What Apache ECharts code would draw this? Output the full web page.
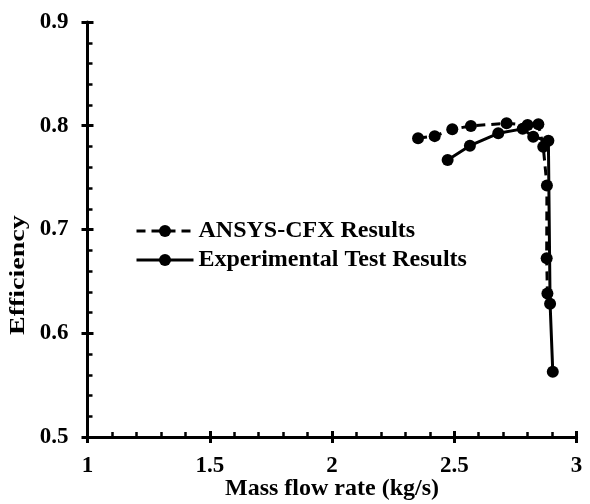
<!DOCTYPE html>
<html><head><meta charset="utf-8">
<script src="https://cdn.jsdelivr.net/npm/echarts@6/dist/echarts.min.js"></script>
<style>html,body{margin:0;padding:0;background:#fff}#c{width:590px;height:504px}</style>
</head><body><div id="c"></div>
<script>
const ansysX = [2.352, 2.42, 2.492, 2.568, 2.714, 2.80, 2.844, 2.864, 2.879, 2.878, 2.881];
const ansysY = [0.788, 0.790, 0.7966, 0.7998, 0.8024, 0.8007, 0.8014, 0.7798, 0.7423, 0.6724, 0.6382];
const expX = [2.473, 2.564, 2.68, 2.78, 2.823, 2.885, 2.892, 2.903];
const expY = [0.767, 0.7808, 0.7927, 0.797, 0.7894, 0.7856, 0.6285, 0.5628];
const xTicks = [1, 1.5, 2, 2.5, 3];
const yTicks = [0.5, 0.6, 0.7, 0.8, 0.9];
const seriesNames = ['ANSYS-CFX Results', 'Experimental Test Results'];
const xTitle = 'Mass flow rate (kg/s)';
const yTitle = 'Efficiency';

const FONT = 'Liberation Serif';
const FS = 23;
const pair = (xs, ys) => xs.map((x, i) => [x, ys[i]]);
const chart = echarts.init(document.getElementById('c'), null, {renderer: 'canvas'});
const axisCommon = {type: 'value', splitLine: {show: false}};
chart.setOption({
  animation: false,
  backgroundColor: '#fff',
  grid: {left: 87.5, right: 13.5, top: 22, bottom: 67, containLabel: false, outerBoundsMode: 'none'},
  legend: {
    left: 135, top: 219, orient: 'vertical', itemGap: 5, padding: 0,
    itemWidth: 57, itemHeight: 15,
    lineStyle: {width: 3},
    textStyle: {fontFamily: FONT, fontWeight: 'bold', fontSize: 24, color: '#000'},
    data: seriesNames
  },
  xAxis: [
    Object.assign({}, axisCommon, {
      min: xTicks[0], max: xTicks[xTicks.length - 1], interval: 0.5,
      axisLine: {lineStyle: {color: '#000', width: 3}},
      axisTick: {inside: false, length: 6, lineStyle: {width: 3, color: '#000'}},
      axisLabel: {fontFamily: FONT, fontWeight: 'bold', fontSize: FS, color: '#000', margin: 18},
      name: xTitle, nameLocation: 'middle', nameGap: 40, nameMoveOverlap: false,
      nameTextStyle: {fontFamily: FONT, fontWeight: 'bold', fontSize: 24, color: '#000'}
    }),
    Object.assign({}, axisCommon, {
      min: xTicks[0], max: xTicks[xTicks.length - 1], interval: 0.5, position: 'bottom',
      axisLine: {show: false}, axisLabel: {show: false},
      axisTick: {inside: true, length: 6, lineStyle: {width: 3, color: '#000'}},
      minorTick: {show: true, splitNumber: 5, length: 5, lineStyle: {width: 2.5, color: '#000'}}
    })
  ],
  yAxis: [
    Object.assign({}, axisCommon, {
      min: yTicks[0], max: yTicks[yTicks.length - 1], interval: 0.1,
      axisLine: {lineStyle: {color: '#000', width: 3}},
      axisTick: {inside: false, length: 6, lineStyle: {width: 3, color: '#000'}},
      axisLabel: {fontFamily: FONT, fontWeight: 'bold', fontSize: FS, color: '#000', margin: 19,
                  formatter: v => v.toFixed(1)}
    }),
    Object.assign({}, axisCommon, {
      min: yTicks[0], max: yTicks[yTicks.length - 1], interval: 0.1, position: 'left',
      axisLine: {show: false}, axisLabel: {show: false},
      axisTick: {inside: true, length: 6, lineStyle: {width: 3, color: '#000'}},
      minorTick: {show: true, splitNumber: 5, length: 5, lineStyle: {width: 2.5, color: '#000'}}
    })
  ],
  graphic: [{
    type: 'text', x: 9, y: 335, rotation: Math.PI / 2, scaleX: 1.4, scaleY: 1,
    style: {text: yTitle, fontFamily: FONT, fontWeight: 'bold', fontSize: 20, fill: '#000'}
  }],
  series: [
    {name: seriesNames[0], type: 'line', data: pair(ansysX, ansysY),
     symbol: 'circle', symbolSize: 12, color: '#000',
     lineStyle: {color: '#000', width: 3, type: [9, 6]}, itemStyle: {color: '#000'}},
    {name: seriesNames[1], type: 'line', data: pair(expX, expY),
     symbol: 'circle', symbolSize: 12, color: '#000',
     lineStyle: {color: '#000', width: 3, type: 'solid'}, itemStyle: {color: '#000'}}
  ]
});
</script></body></html>
